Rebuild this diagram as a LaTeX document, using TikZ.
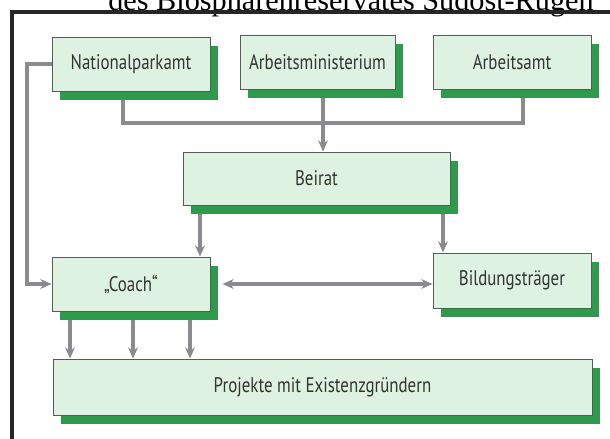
\documentclass[tikz,border=0pt]{standalone}
\usepackage{fontspec}
\setmainfont{Liberation Serif}
\newfontfamily\boxfont[FakeStretch=0.8]{PT Sans}
\usetikzlibrary{arrows.meta,shadows,backgrounds}
\definecolor{boxgreen}{HTML}{DDF2E0}
\definecolor{shadegreen}{HTML}{2E9B4C}
\definecolor{linkgray}{HTML}{8C8A8E}
\tikzset{
  amt/.style={draw=black!65, line width=0.6pt, fill=boxgreen,
    minimum width=3.95cm, minimum height=1.35cm, text=black!80,
    font=\boxfont\fontsize{15}{18}\selectfont,
    drop shadow={shadow xshift=0.2cm, shadow yshift=-0.22cm, fill=shadegreen, opacity=1}},
  link/.style={draw=linkgray, line width=2.2pt},
  pfeil/.style={link, -{Stealth[length=8pt,width=7pt]}},
  doppel/.style={link, {Stealth[length=8pt,width=7pt]}-{Stealth[length=8pt,width=7pt]}},
}
\begin{document}
\begin{tikzpicture}[x=0.025cm, y=-0.025cm]
  \useasboundingbox (0,0) rectangle (610,439);
  \node[anchor=base, font=\fontsize{21.5}{24}\selectfont] (titel) at (351,11)
    {des Biosphärenreservates Südost-Rügen};
  \draw[line width=2.2pt, black!85] (12,439) -- (12,12) -- (610,12);

  \node[amt] (natamt) at (131,64) {Nationalparkamt};
  \node[amt, minimum width=3.875cm] (ministerium) at (317.5,62) {Arbeitsministerium};
  \node[amt] (arbeitsamt) at (512,62) {Arbeitsamt};
  \node[amt, minimum width=6.675cm, minimum height=1.325cm] (beirat) at (316.5,178.5) {Beirat};
  \node[amt] (coach) at (131,284) {„Coach“};
  \node[amt, minimum height=1.375cm] (bildung) at (512,280.5) {Bildungsträger};
  \node[amt, minimum width=13.475cm, minimum height=1.4cm] (projekte) at (322.5,387)
    {Projekte mit Existenzgründern};

  \coordinate (busL) at (123,123);
  \coordinate (busM) at (323,123);
  \coordinate (busR) at (523,123);
  \coordinate (zuleit) at (27,64);
  \coordinate (kL) at (200,0);
  \coordinate (kR) at (443,0);
  \coordinate (p1) at (70,0);
  \coordinate (p2) at (133,0);
  \coordinate (p3) at (190,0);

  \begin{scope}[on background layer]
    \draw[link] (natamt.south -| busL) -- (busL) -- (busR) -- (arbeitsamt.south -| busR);
    \draw[pfeil] (ministerium.south -| busM) -- (beirat.north -| busM);
    \draw[pfeil] (natamt.west) -- (natamt.west -| zuleit) |- (coach.west);
    \draw[pfeil] (beirat.south -| kL) -- (coach.north -| kL);
    \draw[pfeil] (beirat.south -| kR) -- (bildung.north -| kR);
    \draw[doppel, shorten <=0.3cm] (coach.east) -- (coach.east -| bildung.west);
    \foreach \p in {p1,p2,p3}
      \draw[pfeil] (coach.south -| \p) -- (projekte.north -| \p);
  \end{scope}
\end{tikzpicture}
\end{document}
